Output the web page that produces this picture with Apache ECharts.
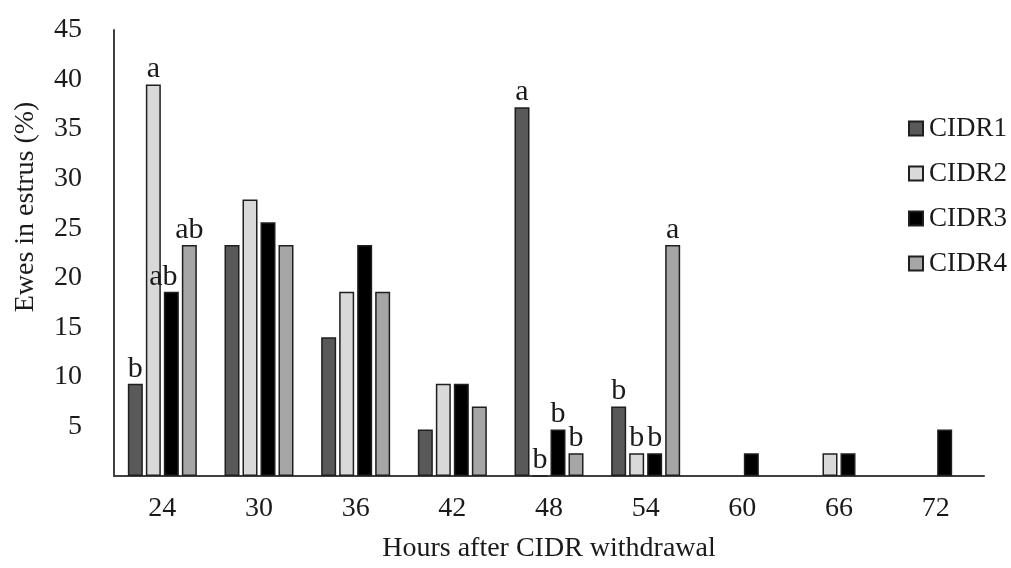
<!DOCTYPE html>
<html>
<head>
<meta charset="utf-8">
<script src="https://cdn.jsdelivr.net/npm/echarts@6/dist/echarts.min.js"></script>
<style>html,body{margin:0;padding:0;background:#fff;}#c{width:1011px;height:568px;}</style>
</head>
<body>
<div id="c"></div>
<script>
const categories = ['24','30','36','42','48','54','60','66','72'];
const seriesNames = ['CIDR1','CIDR2','CIDR3','CIDR4'];
const cidr1 = [9.3, 23.3, 14.0, 4.7, 37.2, 7.0, null, null, null];
const cidr2 = [39.5, 27.9, 18.6, 9.3, 0, 2.3, null, 2.3, null];
const cidr3 = [18.6, 25.6, 23.3, 9.3, 4.7, 2.3, 2.3, 2.3, 4.7];
const cidr4 = [23.3, 23.3, 18.6, 7.0, 2.3, 23.3, null, null, null];
const letters1 = ['b','','','','a','b','','',''];
const letters2 = ['a','','','','b','b','','',''];
const letters3 = ['ab','','','','b','b','','',''];
const letters4 = ['ab','','','','b','a','','',''];
const yTicks = [5,10,15,20,25,30,35,40,45];

const colors = ['#595959','#d9d9d9','#000000','#a6a6a6'];
const allData = [cidr1, cidr2, cidr3, cidr4];
const allLetters = [letters1, letters2, letters3, letters4];
const font = '"Liberation Serif", "Times New Roman", serif';

function buildData(i) {
  return allData[i].map((v, k) => {
    if (i === 2 && k === 0) return { value: v, label: { offset: [-8, 0] } };
    return v;
  });
}

const chart = echarts.init(document.getElementById('c'));
chart.setOption({
  animation: false,
  textStyle: { fontFamily: font, color: '#1a1a1a' },
  grid: { left: 114, right: 27, top: 30, bottom: 92 },
  legend: {
    orient: 'vertical', left: 903, top: 110,
    itemWidth: 14, itemHeight: 14, itemGap: 18,
    icon: 'rect',
    textStyle: { fontFamily: font, fontSize: 27, color: '#1a1a1a', padding: [0,0,0,1] },
    data: seriesNames
  },
  xAxis: {
    type: 'category', data: categories,
    name: 'Hours after CIDR withdrawal', nameLocation: 'middle', nameGap: 59,
    nameTextStyle: { fontFamily: font, fontSize: 28, color: '#1a1a1a' },
    axisLine: { lineStyle: { color: '#404040', width: 2 } },
    axisTick: { show: false },
    axisLabel: { fontFamily: font, fontSize: 28, color: '#1a1a1a', margin: 19 }
  },
  yAxis: {
    type: 'value', min: 0, max: 45, interval: 5,
    name: 'Ewes in estrus (%)', nameLocation: 'middle', nameGap: 74,
    nameTextStyle: { fontFamily: font, fontSize: 28, color: '#1a1a1a', padding: [0,0,0,92] },
    axisLine: { show: true, lineStyle: { color: '#404040', width: 2 } },
    axisTick: { show: false },
    splitLine: { show: false },
    axisLabel: { fontFamily: font, fontSize: 28, color: '#1a1a1a', margin: 32,
      formatter: v => yTicks.indexOf(v) >= 0 ? String(v) : '' }
  },
  series: seriesNames.map((n, i) => ({
    name: n, type: 'bar', data: buildData(i),
    barWidth: 15, barGap: '20%',
    itemStyle: { color: colors[i], borderColor: '#1f1f1f', borderWidth: 1.5 },
    label: {
      show: true, position: 'top', distance: 0,
      fontFamily: font, fontSize: 30, color: '#1a1a1a',
      formatter: p => allLetters[i][p.dataIndex] || ''
    }
  }))
});
</script>
</body>
</html>
